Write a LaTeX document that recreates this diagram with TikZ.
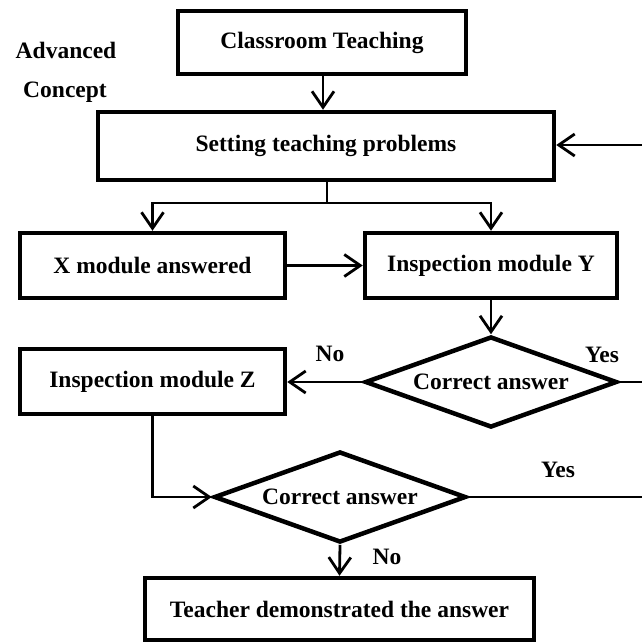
\documentclass[tikz,border=0pt]{standalone}
\usepackage{fontspec}
\setmainfont{Liberation Serif}
\usetikzlibrary{shapes.geometric,arrows.meta}
\begin{document}
\begin{tikzpicture}[x=1pt,y=-1pt,
  every node/.style={font=\fontsize{23.5}{26}\selectfont\bfseries},
  box/.style={draw,line width=4.5pt,rectangle,inner sep=0pt},
  dec/.style={draw,line width=4.5pt,diamond,shape aspect=2.74,inner sep=0pt,minimum width=252pt,minimum height=91pt},
  lbl/.style={inner sep=0pt},
  conn/.style={line width=2.8pt},
  arr/.style={conn,-{Straight Barb[length=16pt,width=22pt,line width=2.8pt]}}]
\useasboundingbox (0,0) rectangle (642,641);
\node[box,minimum width=288pt,minimum height=63pt] (cls) at (322,42.5) {Classroom Teaching};
\node[box,minimum width=456pt,minimum height=68pt] (set) at (326,146) {Setting teaching problems};
\node[box,minimum width=265pt,minimum height=65pt] (xm) at (152.5,265.5) {X module answered};
\node[box,minimum width=252pt,minimum height=65pt] (ym) at (491,265.5) {Inspection module Y};
\node[dec] (d1) at (491,382) {Correct answer};
\node[box,minimum width=265pt,minimum height=65pt] (zm) at (152.5,381.5) {Inspection module Z};
\node[dec] (d2) at (340,497) {Correct answer};
\node[box,minimum width=389pt,minimum height=62pt] (tch) at (339.5,609) {Teacher demonstrated the answer};
\node[lbl] (adv) at (66,50) {Advanced};
\node[lbl] (con) at (65,92) {Concept};
\node[lbl] (no1) at (330,354) {No};
\node[lbl] (yes1) at (602,355) {Yes};
\node[lbl] (yes2) at (558,470) {Yes};
\node[lbl] (no2) at (387,557) {No};
\coordinate (rin) at (642,145);
\coordinate (split) at (327,203);
\coordinate (r1) at (642,382);
\coordinate (r2) at (642,497);
\draw[arr] (cls.south -| 323,0) -- (323,0 |- set.north);
\draw[arr] (rin) -- (set.east |- rin);
\draw[conn] (split |- set.south) -- (split);
\draw[arr] (split) -| (xm.north);
\draw[arr] (split) -| (ym.north);
\draw[arr] (xm.east) -- (xm.east -| ym.west);
\draw[arr] (ym.south) -- (d1.north);
\draw[arr] (d1.west) -- (d1.west -| zm.east);
\draw[conn] (d1.east) -- (r1);
\draw[arr] (zm.south) |- (d2.west);
\draw[conn] (d2.east) -- (r2);
\draw[arr] (d2.south) -- (tch.north);
\end{tikzpicture}
\end{document}
